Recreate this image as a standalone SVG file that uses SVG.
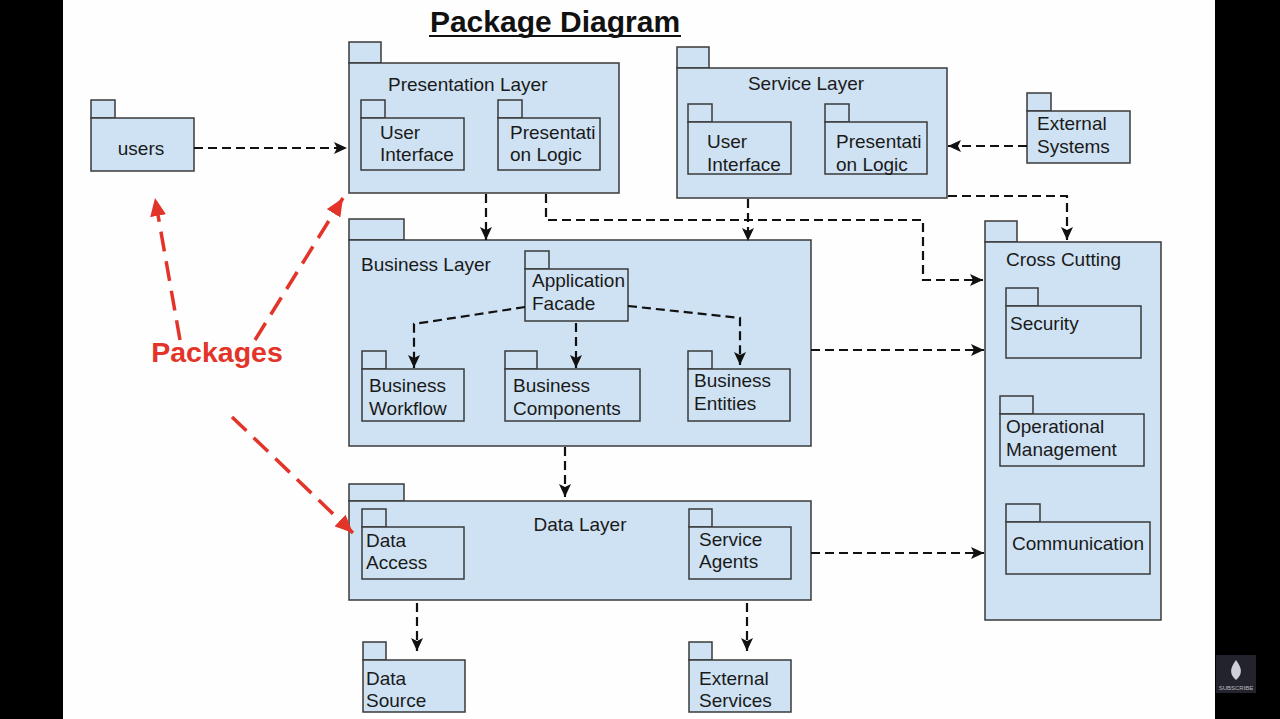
<svg xmlns="http://www.w3.org/2000/svg" width="1280" height="719" viewBox="0 0 1280 719">
<defs>
<style>
.pk{fill:#cfe2f3;stroke:#3a3a3a;stroke-width:1.5}
.t{font-family:"Liberation Sans",Arial,sans-serif;font-size:19px;fill:#1a1a1a}
.c{fill:none;stroke:#111;stroke-width:2.2;stroke-dasharray:9 5}
.r{fill:none;stroke:#e3342a;stroke-width:3.5;stroke-dasharray:20 10}
</style>
<marker id="ah" markerUnits="userSpaceOnUse" markerWidth="13" markerHeight="12" refX="13" refY="6" orient="auto">
<path d="M0,0 L13,6 L0,12 L3,6 z" fill="#111"/>
</marker>
<marker id="rh" markerUnits="userSpaceOnUse" markerWidth="18" markerHeight="16" refX="18" refY="8" orient="auto">
<path d="M0,0 L18,8 L0,16 z" fill="#e3342a"/>
</marker>
</defs>
<rect x="0" y="0" width="1280" height="719" fill="#000"/>
<rect x="63" y="0" width="1152" height="719" fill="#fefefe"/>
<g id="logo">
<rect x="1216" y="655" width="40" height="38" fill="#23232e"/>
<path d="M1236,660 C1230,668 1229,674 1236,680 C1243,674 1242,668 1236,660 z" fill="#cfcfd8"/>
<text x="1236" y="690" font-family="Liberation Sans,sans-serif" font-size="6" fill="#bbb" text-anchor="middle">SUBSCRIBE</text>
</g>
<g id="title">
<text x="555" y="32" font-family="Liberation Sans,Arial,sans-serif" font-size="30" font-weight="bold" fill="#111" text-anchor="middle">Package Diagram</text>
<rect x="429" y="35" width="252" height="2" fill="#111"/>
</g>
<g id="users">
<rect class="pk" x="91" y="100" width="24" height="18"/>
<rect class="pk" x="91" y="118" width="103" height="53"/>
<text class="t" x="141" y="155" text-anchor="middle">users</text>
</g>
<g id="presentation-layer">
<rect class="pk" x="349" y="42" width="32" height="21"/>
<rect class="pk" x="349" y="63" width="270" height="130"/>
<text class="t" x="388" y="91">Presentation Layer</text>
<rect class="pk" x="361" y="100" width="24" height="18"/>
<rect class="pk" x="361" y="118" width="103" height="52"/>
<text class="t"><tspan x="380" y="139">User</tspan><tspan x="380" y="161">Interface</tspan></text>
<rect class="pk" x="498" y="100" width="24" height="18"/>
<rect class="pk" x="498" y="118" width="102" height="52"/>
<text class="t"><tspan x="510" y="139">Presentati</tspan><tspan x="510" y="161">on Logic</tspan></text>
</g>
<g id="service-layer">
<rect class="pk" x="677" y="47" width="32" height="21"/>
<rect class="pk" x="677" y="68" width="270" height="130"/>
<text class="t" x="806" y="90" text-anchor="middle">Service Layer</text>
<rect class="pk" x="688" y="104" width="24" height="18"/>
<rect class="pk" x="688" y="122" width="103" height="52"/>
<text class="t"><tspan x="707" y="148">User</tspan><tspan x="707" y="171">Interface</tspan></text>
<rect class="pk" x="825" y="104" width="24" height="18"/>
<rect class="pk" x="825" y="122" width="102" height="52"/>
<text class="t"><tspan x="836" y="148">Presentati</tspan><tspan x="836" y="171">on Logic</tspan></text>
</g>
<g id="external-systems">
<rect class="pk" x="1027" y="93" width="24" height="18"/>
<rect class="pk" x="1027" y="111" width="103" height="52"/>
<text class="t"><tspan x="1037" y="130">External</tspan><tspan x="1037" y="153">Systems</tspan></text>
</g>
<g id="business-layer">
<rect class="pk" x="349" y="219" width="55" height="21"/>
<rect class="pk" x="349" y="240" width="462" height="206"/>
<text class="t" x="361" y="271">Business Layer</text>
<rect class="pk" x="525" y="251" width="24" height="18"/>
<rect class="pk" x="525" y="269" width="103" height="52"/>
<text class="t"><tspan x="532" y="287">Application</tspan><tspan x="532" y="310">Facade</tspan></text>
<rect class="pk" x="362" y="351" width="24" height="18"/>
<rect class="pk" x="362" y="369" width="102" height="52"/>
<text class="t"><tspan x="369" y="392">Business</tspan><tspan x="369" y="415">Workflow</tspan></text>
<rect class="pk" x="505" y="351" width="32" height="18"/>
<rect class="pk" x="505" y="369" width="135" height="52"/>
<text class="t"><tspan x="513" y="392">Business</tspan><tspan x="513" y="415">Components</tspan></text>
<rect class="pk" x="688" y="351" width="24" height="18"/>
<rect class="pk" x="688" y="369" width="102" height="52"/>
<text class="t"><tspan x="694" y="387">Business</tspan><tspan x="694" y="410">Entities</tspan></text>
</g>
<g id="data-layer">
<rect class="pk" x="349" y="484" width="55" height="17"/>
<rect class="pk" x="349" y="501" width="462" height="99"/>
<text class="t" x="580" y="531" text-anchor="middle">Data Layer</text>
<rect class="pk" x="362" y="509" width="24" height="18"/>
<rect class="pk" x="362" y="527" width="102" height="52"/>
<text class="t"><tspan x="366" y="547">Data</tspan><tspan x="366" y="569">Access</tspan></text>
<rect class="pk" x="689" y="509" width="23" height="18"/>
<rect class="pk" x="689" y="527" width="102" height="52"/>
<text class="t"><tspan x="699" y="546">Service</tspan><tspan x="699" y="568">Agents</tspan></text>
</g>
<g id="data-source">
<rect class="pk" x="363" y="642" width="23" height="18"/>
<rect class="pk" x="363" y="660" width="102" height="52"/>
<text class="t"><tspan x="366" y="685">Data</tspan><tspan x="366" y="707">Source</tspan></text>
</g>
<g id="external-services">
<rect class="pk" x="689" y="642" width="23" height="18"/>
<rect class="pk" x="689" y="660" width="102" height="52"/>
<text class="t"><tspan x="699" y="685">External</tspan><tspan x="699" y="707">Services</tspan></text>
</g>
<g id="cross-cutting">
<rect class="pk" x="985" y="221" width="32" height="21"/>
<rect class="pk" x="985" y="242" width="176" height="378"/>
<text class="t" x="1006" y="266">Cross Cutting</text>
<rect class="pk" x="1006" y="288" width="32" height="18"/>
<rect class="pk" x="1006" y="306" width="135" height="52"/>
<text class="t" x="1010" y="330">Security</text>
<rect class="pk" x="1000" y="396" width="33" height="18"/>
<rect class="pk" x="1000" y="414" width="144" height="52"/>
<text class="t"><tspan x="1006" y="433">Operational</tspan><tspan x="1006" y="456">Management</tspan></text>
<rect class="pk" x="1006" y="504" width="34" height="18"/>
<rect class="pk" x="1006" y="522" width="144" height="52"/>
<text class="t" x="1012" y="550">Communication</text>
</g>
<g id="connectors">
<path class="c" d="M194,148 H347" marker-end="url(#ah)"/>
<path class="c" d="M486,194 V240" marker-end="url(#ah)"/>
<path class="c" d="M546,194 V220 H923 V280 H983" marker-end="url(#ah)"/>
<path class="c" d="M748,199 V241" marker-end="url(#ah)"/>
<path class="c" d="M1027,146 H948" marker-end="url(#ah)"/>
<path class="c" d="M948,196 H1067 V240" marker-end="url(#ah)"/>
<path class="c" d="M811,350 H984" marker-end="url(#ah)"/>
<path class="c" d="M565,447 V497" marker-end="url(#ah)"/>
<path class="c" d="M811,553 H984" marker-end="url(#ah)"/>
<path class="c" d="M417,603 V651" marker-end="url(#ah)"/>
<path class="c" d="M747,603 V651" marker-end="url(#ah)"/>
<path class="c" d="M525,307 L414,324 V368" marker-end="url(#ah)"/>
<path class="c" d="M576,323 V368" marker-end="url(#ah)"/>
<path class="c" d="M628,306 L740,318 V365" marker-end="url(#ah)"/>
</g>
<g id="annotation">
<text x="217" y="362" font-family="Liberation Sans,Arial,sans-serif" font-size="28.5" font-weight="bold" fill="#e3342a" text-anchor="middle">Packages</text>
<path class="r" d="M180,340 L155,198" marker-end="url(#rh)"/>
<path class="r" d="M255,340 L343,198" marker-end="url(#rh)"/>
<path class="r" d="M232,417 L353,533" marker-end="url(#rh)"/>
</g>
</svg>
